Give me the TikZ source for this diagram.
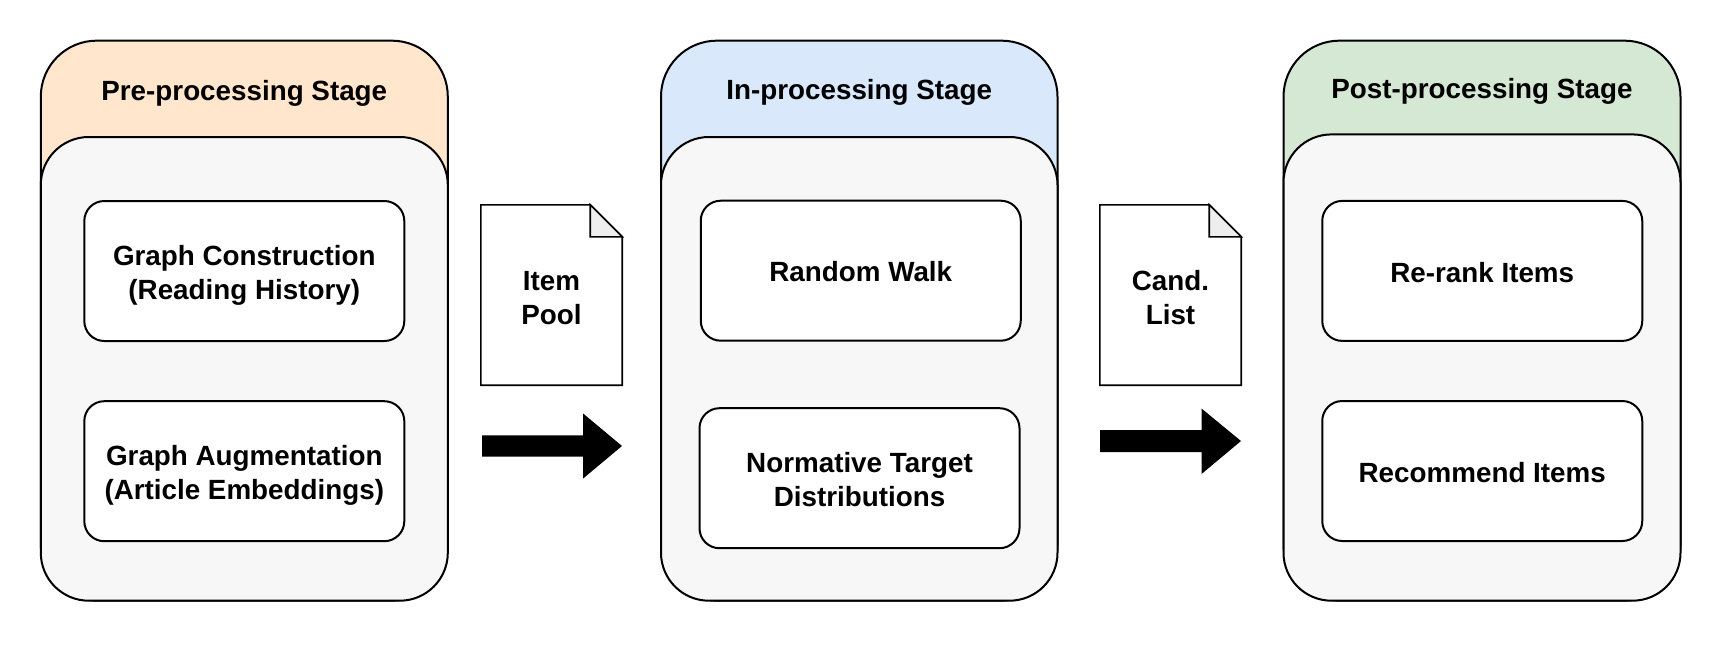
\documentclass[tikz,border=0pt]{standalone}
\usepackage{fontspec}
\setmainfont{Liberation Sans}
\definecolor{preC}{HTML}{FFE6CC}
\definecolor{inC}{HTML}{DAE8FC}
\definecolor{postC}{HTML}{D5E8D4}
\definecolor{innerC}{HTML}{F7F7F7}
\definecolor{foldC}{HTML}{EEEEEE}
\tikzset{
  stagebox/.style={draw, line width=2pt, rounded corners=56pt, minimum height=560pt, inner sep=0pt},
  innerbox/.style={draw, line width=2pt, fill=innerC, rounded corners=48pt, inner sep=0pt},
  stepbox/.style={draw, line width=2pt, fill=white, rounded corners=20pt, minimum width=320pt, minimum height=140pt, inner sep=0pt},
  lbl/.style={font=\bfseries\fontsize{27.8}{34}\selectfont, anchor=base, inner sep=0pt},
  docarea/.style={minimum width=141pt, minimum height=180pt, inner sep=0pt},
  docline/.style={draw=black, line width=1.6pt},
  bigarrow/.style={fill=black},
}
\begin{document}
\begin{tikzpicture}[x=1pt,y=-1pt]
\useasboundingbox (0,0) rectangle (1722,662);

% ---------- stage 1 ----------
\node[stagebox, fill=preC, minimum width=407pt] (s1) at (244.3,320.65) {};
\node[innerbox, minimum width=407pt, minimum height=463.7pt] (i1) at (244.3,368.85) {};
\node[lbl] (t1) at (244.3,100.5) {Pre-processing Stage};
\node[stepbox] (a1) at (244.3,271) {};
\node[lbl] (a1l1) at (a1.center |- 0,265) {Graph Construction};
\node[lbl] (a1l2) at (a1.center |- 0,299) {(Reading History)};
\node[stepbox] (b1) at (244.3,471.2) {};
\node[lbl] (b1l1) at (b1.center |- 0,465) {Graph Augmentation};
\node[lbl] (b1l2) at (b1.center |- 0,499) {(Article Embeddings)};

% ---------- stage 2 ----------
\node[stagebox, fill=inC, minimum width=396.5pt] (s2) at (859.25,320.65) {};
\node[innerbox, minimum width=396.5pt, minimum height=463.7pt] (i2) at (859.25,368.85) {};
\node[lbl] (t2) at (859.25,99) {In-processing Stage};
\node[stepbox] (a2) at (860.75,270.7) {};
\node[lbl] (a2l1) at (a2.center |- 0,281.5) {Random Walk};
\node[stepbox] (b2) at (859.5,478.2) {};
\node[lbl] (b2l1) at (b2.center |- 0,472) {Normative Target};
\node[lbl] (b2l2) at (b2.center |- 0,506) {Distributions};

% ---------- stage 3 ----------
\node[stagebox, fill=postC, minimum width=397pt] (s3) at (1482,320.65) {};
\node[innerbox, minimum width=397pt, minimum height=466.3pt] (i3) at (1482,367.55) {};
\node[lbl] (t3) at (1482,98) {Post-processing Stage};
\node[stepbox] (a3) at (1482.25,270.9) {};
\node[lbl] (a3l1) at (a3.center |- 0,282) {Re-rank Items};
\node[stepbox] (b3) at (1482.25,471) {};
\node[lbl] (b3l1) at (b3.center |- 0,482) {Recommend Items};

% ---------- documents ----------
\foreach \d/\x/\la/\lb in {d1/551.5/Item/Pool, d2/1170.5/Cand./List}{
  \node[docarea] (\d) at (\x,295) {};
  \draw[docline, fill=white] (\d.south west) -- (\d.north west)
     -- ([shift={(-32,0)}]\d.north east) -- ([shift={(0,32)}]\d.north east)
     -- (\d.south east) -- cycle;
  \draw[docline, fill=foldC] ([shift={(-32,0)}]\d.north east)
     -- ([shift={(-32,32)}]\d.north east)
     -- ([shift={(0,32)}]\d.north east) -- cycle;
  \node[lbl] (\d l1) at (\d.center |- 0,290) {\la};
  \node[lbl] (\d l2) at (\d.center |- 0,324) {\lb};
}

% ---------- block arrows ----------
\coordinate (ar1) at (482,446);
\fill[bigarrow] ([shift={(0,-10.6)}]ar1) -- ++(101,0) -- ++(0,-22) -- ++(39,32.6)
   -- ++(-39,32.6) -- ++(0,-22) -- ++(-101,0) -- cycle;
\coordinate (ar2) at (1100,441);
\fill[bigarrow] ([shift={(0,-11)}]ar2) -- ++(101.5,0) -- ++(0,-21.5) -- ++(39.5,32.5)
   -- ++(-39.5,33) -- ++(0,-22) -- ++(-101.5,0) -- cycle;
\end{tikzpicture}
\end{document}
